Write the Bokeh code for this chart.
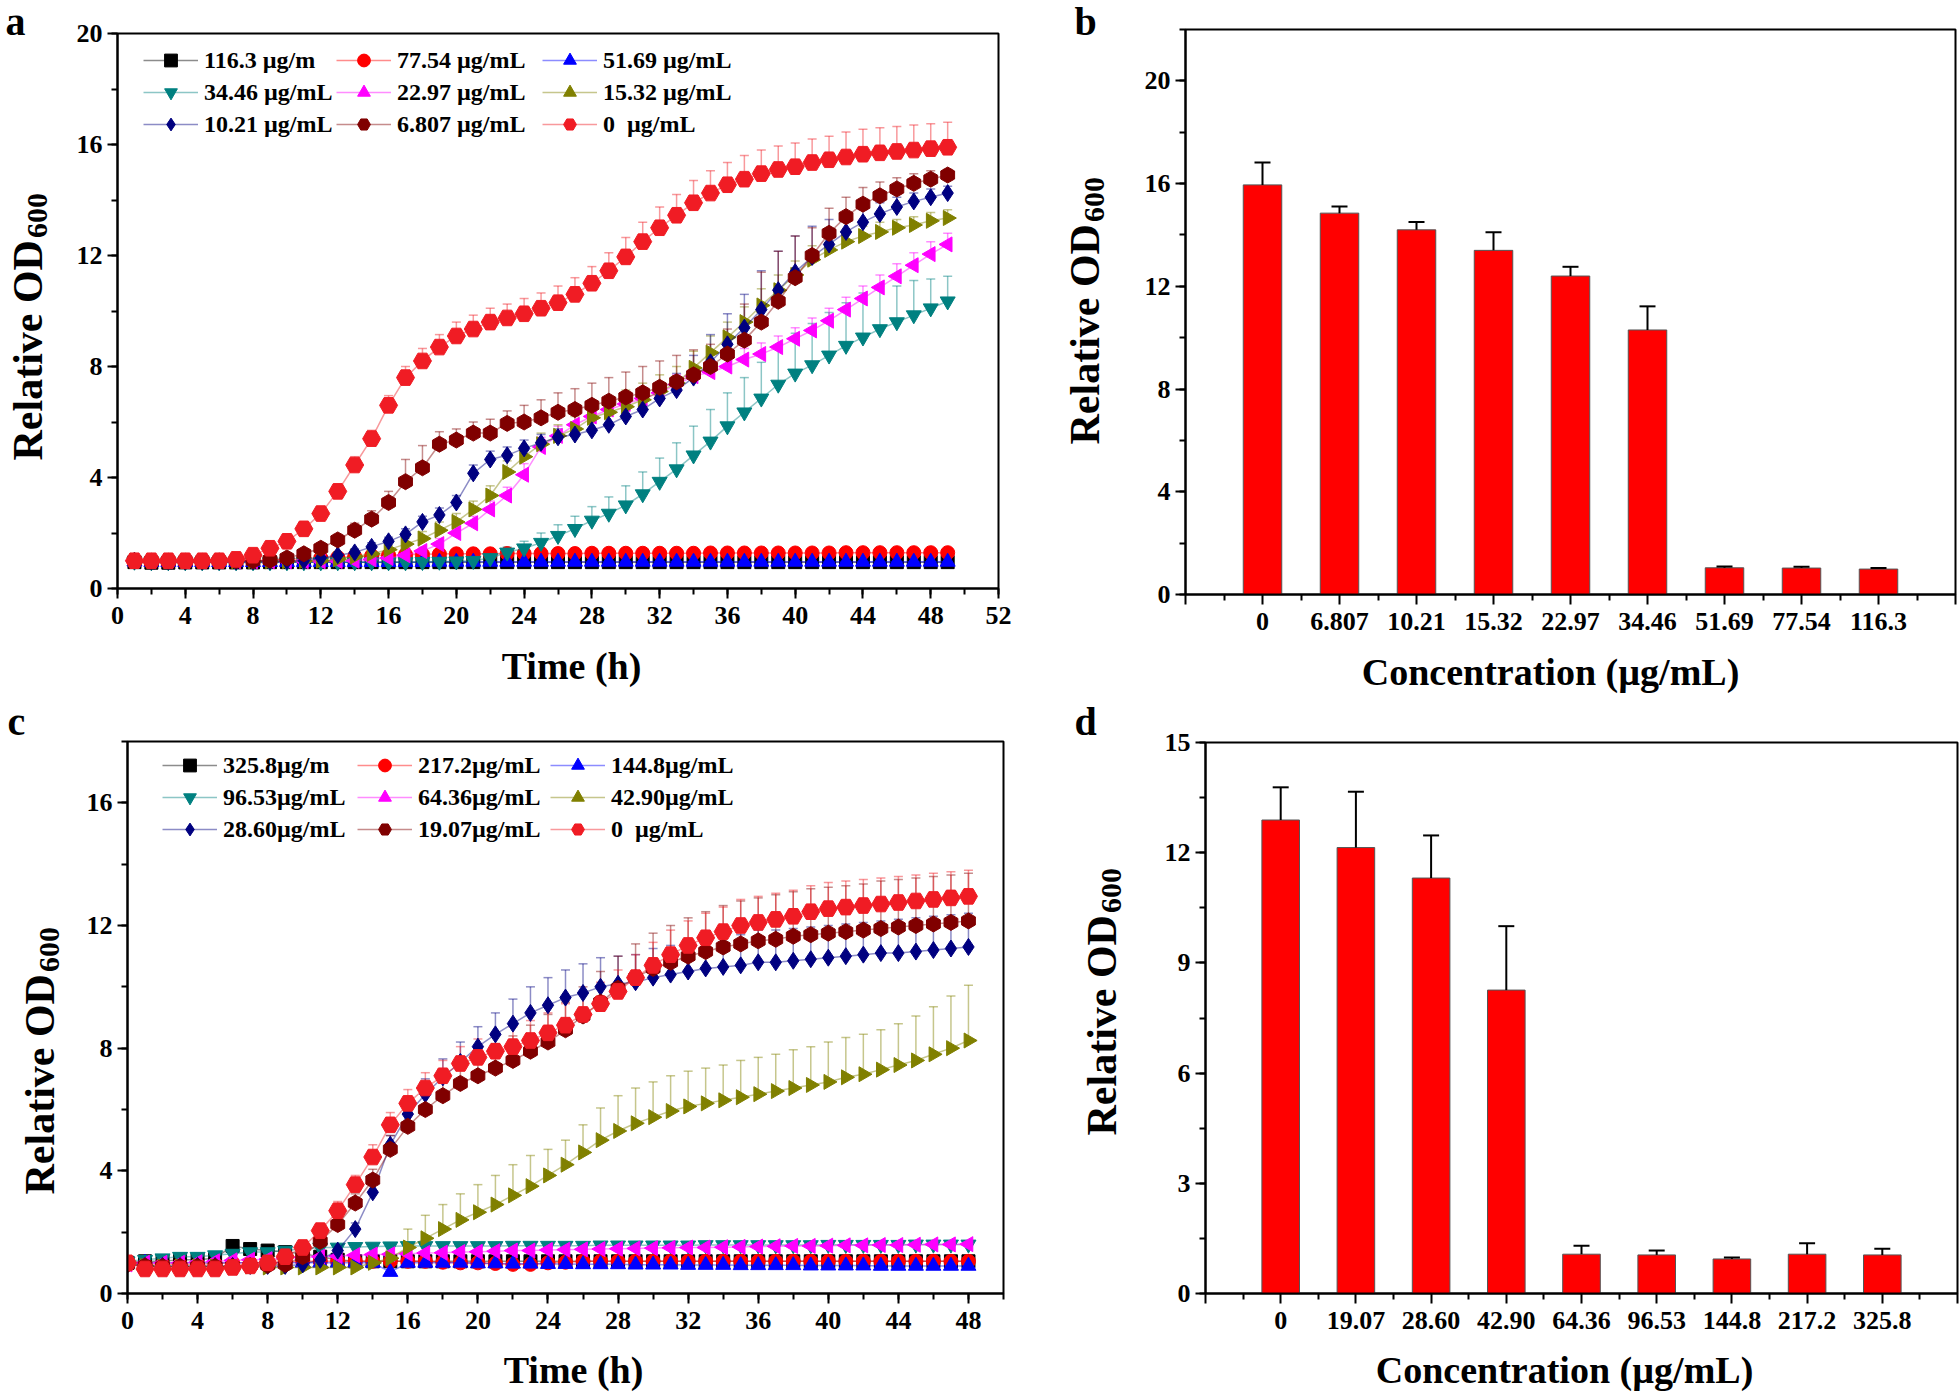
import numpy as np
from bokeh.plotting import figure
from bokeh.layouts import column, row
from bokeh.models import (Legend, LegendItem, Whisker, TeeHead, ColumnDataSource,
                          SingleIntervalTicker, FixedTicker)
from bokeh.core.properties import value
from bokeh.embed import file_html
from bokeh.resources import INLINE

FONT = "Liberation Serif"

# ------------------------------------------------------------------ data: panel a
a_time = list(range(1, 50))
a_labels = ["116.3 µg/m", "77.54 µg/mL", "51.69 µg/mL",
            "34.46 µg/mL", "22.97 µg/mL", "15.32 µg/mL",
            "10.21 µg/mL", "6.807 µg/mL", "0  µg/mL"]
a_1163 = [0.95, 0.93, 0.93, 0.94, 0.94, 0.94, 0.94, 0.94, 0.95, 0.95,
          0.95, 0.95, 0.95, 0.95, 0.95, 0.95, 0.95, 0.95, 0.95, 0.95,
          0.95, 0.95, 0.95, 0.95, 0.95, 0.95, 0.95, 0.95, 0.95, 0.95,
          0.95, 0.95, 0.95, 0.95, 0.95, 0.95, 0.95, 0.95, 0.95, 0.95,
          0.95, 0.95, 0.95, 0.95, 0.95, 0.95, 0.95, 0.95, 0.95]
a_7754 = [1.00, 0.98, 0.98, 0.99, 0.99, 1.00, 1.00, 1.00, 1.02, 1.05,
          1.08, 1.10, 1.12, 1.15, 1.18, 1.20, 1.22, 1.23, 1.24, 1.25,
          1.25, 1.25, 1.26, 1.26, 1.26, 1.26, 1.26, 1.27, 1.27, 1.27,
          1.27, 1.27, 1.27, 1.27, 1.28, 1.28, 1.28, 1.28, 1.28, 1.28,
          1.28, 1.28, 1.29, 1.29, 1.29, 1.29, 1.29, 1.29, 1.29]
a_5169 = [0.97, 0.95, 0.95, 0.95, 0.95, 0.95, 0.95, 0.95, 0.95, 0.95,
          0.95, 0.95, 0.95, 0.95, 0.95, 0.95, 0.95, 0.95, 0.96, 0.96,
          0.96, 0.96, 0.96, 0.96, 0.96, 0.96, 0.96, 0.96, 0.96, 0.96,
          0.96, 0.96, 0.96, 0.96, 0.96, 0.96, 0.96, 0.96, 0.96, 0.96,
          0.96, 0.96, 0.96, 0.96, 0.96, 0.96, 0.96, 0.96, 0.96]
a_3446 = [0.97, 0.95, 0.95, 0.95, 0.95, 0.95, 0.95, 0.95, 0.95, 0.95,
          0.95, 0.95, 0.95, 0.95, 0.95, 0.95, 0.95, 0.96, 0.97, 0.98,
          1.00, 1.10, 1.30, 1.45, 1.65, 1.90, 2.15, 2.45, 2.70, 3.00,
          3.40, 3.85, 4.30, 4.80, 5.30, 5.85, 6.35, 6.85, 7.35, 7.75,
          8.05, 8.40, 8.75, 9.05, 9.35, 9.60, 9.85, 10.10, 10.35]
a_3446_err = [0.05, 0.05, 0.05, 0.05, 0.05, 0.05, 0.05, 0.05, 0.05, 0.05,
              0.05, 0.05, 0.05, 0.05, 0.05, 0.05, 0.05, 0.06, 0.07, 0.08,
              0.10, 0.15, 0.20, 0.25, 0.35, 0.40, 0.45, 0.50, 0.60, 0.70,
              0.80, 0.85, 0.95, 1.05, 1.15, 1.20, 1.25, 1.30, 1.40, 1.45,
              1.50, 1.55, 1.55, 1.60, 1.55, 1.30, 1.25, 1.05, 0.90]
a_2297 = [1.00, 0.98, 0.98, 0.98, 0.98, 0.98, 0.98, 0.98, 0.98, 0.98,
          0.98, 0.98, 0.99, 1.00, 1.05, 1.10, 1.20, 1.35, 1.60, 2.00,
          2.35, 2.85, 3.35, 4.10, 5.10, 5.50, 5.90, 6.20, 6.45, 6.65,
          6.85, 7.05, 7.35, 7.65, 7.80, 8.00, 8.25, 8.45, 8.70, 9.00,
          9.30, 9.65, 10.05, 10.45, 10.85, 11.25, 11.65, 12.05, 12.40]
a_2297_err = [0.05, 0.05, 0.05, 0.05, 0.05, 0.05, 0.05, 0.05, 0.05, 0.05,
              0.05, 0.05, 0.05, 0.05, 0.08, 0.10, 0.12, 0.15, 0.20, 0.25,
              0.25, 0.30, 0.30, 0.40, 0.35, 0.35, 0.35, 0.35, 0.35, 0.35,
              0.35, 0.35, 0.35, 0.35, 0.40, 0.40, 0.40, 0.40, 0.40, 0.40,
              0.45, 0.45, 0.45, 0.45, 0.45, 0.45, 0.45, 0.45, 0.40]
a_1532 = [1.00, 0.98, 0.98, 0.98, 0.98, 0.98, 0.98, 0.98, 0.98, 0.98,
          0.99, 1.00, 1.05, 1.15, 1.25, 1.40, 1.60, 1.80, 2.10, 2.40,
          2.85, 3.35, 4.20, 4.75, 5.20, 5.50, 5.75, 6.15, 6.35, 6.55,
          6.80, 7.10, 7.40, 7.95, 8.50, 9.05, 9.60, 10.20, 10.75, 11.30,
          11.85, 12.20, 12.50, 12.70, 12.85, 13.00, 13.10, 13.25, 13.35]
a_1532_err = [0.05, 0.05, 0.05, 0.05, 0.05, 0.05, 0.05, 0.05, 0.05, 0.05,
              0.05, 0.05, 0.08, 0.10, 0.12, 0.15, 0.20, 0.25, 0.30, 0.30,
              0.30, 0.35, 0.40, 0.40, 0.40, 0.40, 0.45, 0.50, 0.55, 0.60,
              0.60, 0.60, 0.60, 0.60, 0.60, 0.55, 0.55, 0.60, 0.55, 0.50,
              0.50, 0.45, 0.40, 0.35, 0.35, 0.30, 0.30, 0.30, 0.30]
a_1021 = [1.00, 0.97, 0.97, 0.97, 0.97, 0.97, 0.97, 0.98, 0.98, 0.99,
          1.00, 1.10, 1.20, 1.30, 1.50, 1.70, 1.95, 2.40, 2.65, 3.10,
          4.15, 4.65, 4.80, 5.05, 5.25, 5.45, 5.55, 5.70, 5.90, 6.20,
          6.45, 6.85, 7.15, 7.60, 8.15, 8.80, 9.40, 10.05, 10.75, 11.40,
          11.95, 12.40, 12.85, 13.20, 13.50, 13.75, 13.95, 14.10, 14.25]
a_1021_err = [0.05, 0.05, 0.05, 0.05, 0.05, 0.05, 0.05, 0.05, 0.05, 0.05,
              0.05, 0.08, 0.10, 0.12, 0.15, 0.15, 0.20, 0.20, 0.25, 0.25,
              0.30, 0.30, 0.30, 0.30, 0.30, 0.30, 0.30, 0.35, 0.35, 0.40,
              0.45, 0.50, 0.60, 0.80, 1.00, 1.10, 1.20, 1.40, 1.40, 1.30,
              1.10, 0.90, 0.55, 0.45, 0.40, 0.35, 0.30, 0.30, 0.25]
a_6807 = [1.00, 0.98, 0.98, 0.98, 0.98, 0.99, 1.00, 1.00, 1.02, 1.10,
          1.25, 1.45, 1.75, 2.10, 2.50, 3.10, 3.85, 4.35, 5.20, 5.35,
          5.60, 5.60, 5.95, 6.00, 6.15, 6.35, 6.45, 6.60, 6.75, 6.90,
          7.05, 7.25, 7.45, 7.70, 8.00, 8.45, 8.95, 9.60, 10.35, 11.20,
          12.00, 12.80, 13.40, 13.85, 14.15, 14.40, 14.60, 14.75, 14.90]
a_6807_err = [0.05, 0.05, 0.05, 0.05, 0.05, 0.05, 0.05, 0.05, 0.05, 0.10,
              0.15, 0.20, 0.20, 0.25, 0.30, 0.40, 0.80, 0.80, 0.45, 0.40,
              0.40, 0.50, 0.45, 0.60, 0.65, 0.70, 0.75, 0.80, 0.85, 0.90,
              0.95, 0.95, 0.95, 0.90, 0.80, 0.90, 1.30, 1.80, 1.80, 1.50,
              1.00, 0.90, 0.70, 0.60, 0.50, 0.40, 0.35, 0.30, 0.20]
a_0 = [1.00, 1.00, 1.00, 1.00, 1.00, 1.00, 1.05, 1.20, 1.45, 1.70,
       2.15, 2.70, 3.50, 4.45, 5.40, 6.60, 7.60, 8.20, 8.70, 9.10,
       9.35, 9.60, 9.75, 9.90, 10.10, 10.30, 10.60, 11.00, 11.45, 11.95,
       12.50, 13.00, 13.45, 13.90, 14.25, 14.55, 14.75, 14.95, 15.10, 15.20,
       15.35, 15.45, 15.55, 15.65, 15.70, 15.75, 15.80, 15.85, 15.90]
a_0_err = [0.05, 0.05, 0.05, 0.05, 0.05, 0.05, 0.05, 0.10, 0.10, 0.15,
           0.20, 0.20, 0.25, 0.30, 0.30, 0.35, 0.40, 0.45, 0.45, 0.50,
           0.50, 0.50, 0.50, 0.55, 0.55, 0.60, 0.60, 0.60, 0.65, 0.70,
           0.70, 0.75, 0.75, 0.80, 0.80, 0.80, 0.85, 0.85, 0.85, 0.85,
           0.85, 0.85, 0.90, 0.90, 0.90, 0.90, 0.90, 0.90, 0.90]

# ------------------------------------------------------------------ data: panel b
b_cats = ["0", "6.807", "10.21", "15.32", "22.97", "34.46", "51.69", "77.54", "116.3"]
b_vals = [15.95, 14.85, 14.20, 13.40, 12.40, 10.30, 1.04, 1.03, 0.99]
b_err = [0.87, 0.26, 0.30, 0.71, 0.36, 0.92, 0.05, 0.05, 0.04]

# ------------------------------------------------------------------ data: panel c
c_time = list(range(0, 49))
c_labels = ["325.8µg/m", "217.2µg/mL", "144.8µg/mL",
            "96.53µg/mL", "64.36µg/mL", "42.90µg/mL",
            "28.60µg/mL", "19.07µg/mL", "0  µg/mL"]
c_3258 = [1.00, 1.05, 1.05, 1.10, 1.10, 1.15, 1.55, 1.45, 1.40, 1.35,
          1.30, 1.20, 1.10, 1.05, 1.05, 1.05, 1.05, 1.05, 1.05, 1.05,
          1.05, 1.05, 1.05, 1.05, 1.05, 1.05, 1.05, 1.05, 1.05, 1.05,
          1.05, 1.05, 1.05, 1.05, 1.05, 1.05, 1.05, 1.05, 1.05, 1.05,
          1.05, 1.05, 1.05, 1.05, 1.05, 1.05, 1.05, 1.05, 1.05]
c_2172 = [1.00, 0.95, 0.95, 0.95, 0.95, 0.97, 1.00, 1.00, 1.00, 1.02,
          1.05, 1.05, 1.05, 1.05, 1.05, 1.05, 1.05, 1.05, 1.02, 1.00,
          1.00, 0.98, 0.95, 0.95, 1.00, 1.02, 1.05, 1.05, 1.05, 1.05,
          1.05, 1.05, 1.05, 1.05, 1.05, 1.05, 1.05, 1.05, 1.05, 1.05,
          1.05, 1.05, 1.05, 1.05, 1.05, 1.05, 1.05, 1.05, 1.05]
c_1448 = [1.00, 1.00, 1.00, 1.00, 1.00, 1.00, 1.00, 1.00, 1.00, 1.00,
          1.00, 1.00, 1.00, 1.00, 1.00, 0.70, 1.00, 1.00, 1.00, 1.00,
          0.98, 0.98, 0.97, 0.97, 0.96, 0.96, 0.95, 0.95, 0.95, 0.94,
          0.94, 0.94, 0.93, 0.93, 0.93, 0.92, 0.92, 0.92, 0.92, 0.91,
          0.91, 0.91, 0.91, 0.90, 0.90, 0.90, 0.90, 0.90, 0.90]
c_9653 = [1.05, 1.10, 1.15, 1.20, 1.20, 1.25, 1.30, 1.35, 1.35, 1.40,
          1.45, 1.50, 1.50, 1.52, 1.53, 1.54, 1.55, 1.55, 1.55, 1.55,
          1.55, 1.55, 1.56, 1.56, 1.56, 1.56, 1.56, 1.57, 1.57, 1.57,
          1.57, 1.57, 1.57, 1.58, 1.58, 1.58, 1.58, 1.58, 1.58, 1.58,
          1.59, 1.59, 1.59, 1.59, 1.59, 1.60, 1.60, 1.60, 1.60]
c_6436 = [0.95, 1.00, 1.00, 1.00, 1.02, 1.05, 1.08, 1.10, 1.12, 1.15,
          1.18, 1.20, 1.22, 1.25, 1.27, 1.28, 1.30, 1.32, 1.33, 1.35,
          1.36, 1.38, 1.40, 1.40, 1.42, 1.43, 1.44, 1.45, 1.46, 1.47,
          1.48, 1.49, 1.50, 1.50, 1.51, 1.52, 1.53, 1.54, 1.55, 1.55,
          1.56, 1.57, 1.57, 1.58, 1.58, 1.59, 1.60, 1.60, 1.61]
c_4290 = [0.95, 0.90, 0.88, 0.88, 0.88, 0.88, 0.88, 0.88, 0.85, 0.85,
          0.85, 0.85, 0.85, 0.85, 1.00, 1.15, 1.50, 1.80, 2.10, 2.40,
          2.65, 2.90, 3.20, 3.50, 3.85, 4.20, 4.60, 5.00, 5.30, 5.55,
          5.75, 5.95, 6.10, 6.20, 6.30, 6.40, 6.50, 6.60, 6.70, 6.80,
          6.90, 7.05, 7.15, 7.30, 7.45, 7.60, 7.80, 8.00, 8.25]
c_4290_err = [0.05, 0.05, 0.05, 0.05, 0.05, 0.05, 0.05, 0.05, 0.05, 0.05,
              0.05, 0.05, 0.05, 0.05, 0.10, 0.30, 0.60, 0.75, 0.80, 0.85,
              0.90, 0.95, 1.00, 1.00, 0.85, 0.80, 0.90, 1.05, 1.15, 1.15,
              1.15, 1.15, 1.15, 1.15, 1.15, 1.20, 1.20, 1.20, 1.25, 1.25,
              1.30, 1.30, 1.30, 1.30, 1.35, 1.45, 1.55, 1.70, 1.80]
c_2860 = [0.95, 0.90, 0.90, 0.90, 0.90, 0.90, 0.90, 0.90, 0.90, 0.90,
          0.95, 1.10, 1.40, 2.10, 3.30, 4.85, 5.85, 6.50, 7.05, 7.55,
          8.05, 8.45, 8.80, 9.15, 9.40, 9.65, 9.80, 10.00, 10.10, 10.15,
          10.30, 10.40, 10.50, 10.60, 10.65, 10.70, 10.80, 10.80, 10.85, 10.90,
          10.95, 11.00, 11.05, 11.10, 11.10, 11.15, 11.20, 11.25, 11.30]
c_2860_err = [0.05, 0.05, 0.05, 0.05, 0.05, 0.05, 0.05, 0.05, 0.05, 0.05,
              0.05, 0.10, 0.15, 0.20, 0.30, 0.30, 0.40, 0.50, 0.60, 0.65,
              0.65, 0.70, 0.80, 0.85, 0.90, 0.90, 0.95, 0.95, 0.90, 0.90,
              0.95, 0.95, 1.00, 1.00, 1.00, 1.00, 1.05, 1.05, 1.05, 1.05,
              1.05, 1.05, 1.05, 1.05, 1.10, 1.10, 1.10, 1.10, 1.10]
c_1907 = [0.95, 0.90, 0.88, 0.88, 0.88, 0.88, 0.88, 0.90, 0.92, 0.95,
          1.20, 1.70, 2.25, 2.95, 3.70, 4.70, 5.45, 6.00, 6.45, 6.85,
          7.10, 7.35, 7.60, 7.90, 8.20, 8.60, 9.05, 9.50, 9.95, 10.30,
          10.60, 10.80, 11.00, 11.15, 11.30, 11.40, 11.50, 11.55, 11.65, 11.70,
          11.75, 11.80, 11.85, 11.90, 11.95, 12.00, 12.05, 12.10, 12.15]
c_1907_err = [0.05, 0.05, 0.05, 0.05, 0.05, 0.05, 0.05, 0.05, 0.05, 0.05,
              0.15, 0.20, 0.25, 0.30, 0.35, 0.45, 0.55, 0.60, 0.65, 0.70,
              0.75, 0.80, 0.80, 0.85, 0.90, 0.90, 0.95, 1.00, 1.05, 1.10,
              1.15, 1.20, 1.25, 1.30, 1.35, 1.40, 1.40, 1.45, 1.45, 1.50,
              1.50, 1.50, 1.50, 1.55, 1.55, 1.55, 1.55, 1.55, 1.55]
c_0 = [1.00, 0.80, 0.80, 0.80, 0.80, 0.80, 0.85, 0.90, 1.00, 1.20,
       1.50, 2.05, 2.70, 3.55, 4.45, 5.50, 6.20, 6.70, 7.10, 7.50,
       7.70, 7.90, 8.05, 8.25, 8.50, 8.75, 9.10, 9.45, 9.85, 10.30,
       10.70, 11.05, 11.35, 11.60, 11.80, 12.00, 12.10, 12.20, 12.30, 12.45,
       12.55, 12.60, 12.65, 12.70, 12.75, 12.80, 12.85, 12.90, 12.95]
c_0_err = [0.05, 0.05, 0.05, 0.05, 0.05, 0.05, 0.05, 0.05, 0.05, 0.05,
           0.20, 0.20, 0.30, 0.30, 0.40, 0.40, 0.45, 0.50, 0.50, 0.55,
           0.60, 0.60, 0.65, 0.65, 0.65, 0.70, 0.70, 0.70, 0.70, 0.75,
           0.75, 0.80, 0.80, 0.80, 0.80, 0.85, 0.85, 0.85, 0.85, 0.85,
           0.85, 0.85, 0.85, 0.85, 0.85, 0.85, 0.85, 0.85, 0.85]

# ------------------------------------------------------------------ data: panel d
d_cats = ["0", "19.07", "28.60", "42.90", "64.36", "96.53", "144.8", "217.2", "325.8"]
d_vals = [12.89, 12.14, 11.31, 8.26, 1.07, 1.05, 0.94, 1.07, 1.05]
d_err = [0.89, 1.52, 1.16, 1.74, 0.23, 0.12, 0.04, 0.30, 0.17]

# ------------------------------------------------------------------ styles
COLORS = ["#000000", "#ff0000", "#0000ff", "#008080", "#ff00ff", "#808000",
          "#000080", "#800000", "#f01c24"]
MARKERS = ["square", "circle", "triangle", "inverted_triangle", "triangle", "triangle",
           "diamond", "hex", "hex"]
ANGLES = [0, 0, 0, 0, np.pi / 2, -np.pi / 2, 0, np.pi / 2, 0]
SIZES = [13, 14, 15, 15, 15, 15, 17, 16, 18]


def make_fig(W, H, fl, fr, ft, fb, xr, yr):
    p = figure(width=W, height=H, x_range=xr, y_range=yr, title=None,
               output_backend="svg", toolbar_location=None, frame_align=False,
               min_border_left=fl, min_border_right=W - fr,
               min_border_top=ft, min_border_bottom=H - fb)
    p.outline_line_color = "black"
    p.outline_line_width = 2
    p.outline_line_alpha = 1
    p.xgrid.visible = False
    p.ygrid.visible = False
    p.background_fill_color = "white"
    p.border_fill_color = "white"
    for ax in list(p.xaxis) + list(p.yaxis):
        ax.axis_line_width = 2
        ax.axis_line_color = "black"
        ax.major_tick_line_width = 2
        ax.minor_tick_line_width = 2
        ax.major_tick_line_color = "black"
        ax.minor_tick_line_color = "black"
        ax.major_tick_out = 10
        ax.major_tick_in = 0
        ax.minor_tick_out = 6
        ax.minor_tick_in = 0
        ax.major_label_text_font = FONT
        ax.major_label_text_font_style = "bold"
        ax.major_label_text_font_size = "26px"
        ax.major_label_text_color = "black"
    p.xaxis.major_label_standoff = 8
    p.yaxis.major_label_standoff = 5
    return p


def text_fig(W, H, items):
    """A plain strip that carries texts; items = (x, y_from_top, text, size, angle, align)."""
    p = figure(width=W, height=H, x_range=(0, W), y_range=(0, H), title=None,
               output_backend="svg", toolbar_location=None, frame_align=False,
               x_axis_type=None, y_axis_type=None,
               min_border_left=0, min_border_right=0, min_border_top=0, min_border_bottom=0)
    p.outline_line_color = None
    p.grid.visible = False
    p.background_fill_color = "white"
    p.border_fill_color = "white"
    for (x, y, t, s, ang, al) in items:
        p.text(x=[x], y=[H - y], text=[t], angle=ang, text_align=al, text_baseline="middle",
               text_font=value(FONT), text_font_style=value("bold"),
               text_font_size=value(f"{s}px"), text_color="black")
    return p


def ylabel_items(px, py_bottom, letter, lx, ly):
    main_w = 5.249 * 42
    return [(px, py_bottom, "Relative OD", 42, np.pi / 2, "left"),
            (px + 10, py_bottom - main_w - 2, "600", 30, np.pi / 2, "left"),
            (lx, ly, letter, 40, 0.0, "center")]


def growth(p, x, series, errs, labels, col_x, leg_y):
    for ys, er, c in zip(series, errs, COLORS):
        if er is None:
            continue
        src = ColumnDataSource(dict(base=x, lower=ys, upper=[a + b for a, b in zip(ys, er)]))
        p.add_layout(Whisker(source=src, base="base", lower="lower", upper="upper",
                             dimension="height", line_color=c, line_alpha=0.45, line_width=1.5,
                             upper_head=TeeHead(size=9, line_color=c, line_alpha=0.45, line_width=1.5),
                             lower_head=None))
    items = []
    for ys, lab, c, m, a, s in zip(series, labels, COLORS, MARKERS, ANGLES, SIZES):
        rl = p.line(x, ys, line_color=c, line_alpha=0.45, line_width=1.5)
        rs = p.scatter(x, ys, marker=m, angle=a, size=s, fill_color=c, line_color=c)
        items.append(LegendItem(label=lab, renderers=[rl, rs]))
    # three legend columns, filled row by row as in the original
    for k in range(3):
        leg = Legend(items=items[k::3], location=(col_x[k], leg_y), orientation="vertical",
                     glyph_width=55, glyph_height=32, label_height=32, label_standoff=6,
                     spacing=0, padding=0, margin=0,
                     label_text_font=FONT, label_text_font_style="bold",
                     label_text_font_size="24px", label_text_color="black",
                     background_fill_alpha=0, border_line_alpha=0)
        p.add_layout(leg)


def bars(p, cats, vals, errs):
    idx = list(range(len(cats)))
    p.vbar(x=idx, top=vals, width=0.5, fill_color="#ff0000", line_color="#555555", line_width=1)
    src = ColumnDataSource(dict(base=idx, lower=vals, upper=[a + b for a, b in zip(vals, errs)]))
    p.add_layout(Whisker(source=src, base="base", lower="lower", upper="upper",
                         dimension="height", line_color="black", line_width=2, level="glyph",
                         upper_head=TeeHead(size=16, line_color="black", line_width=2),
                         lower_head=None))
    ticks = list(range(-1, len(cats) + 1))
    p.xaxis.ticker = FixedTicker(ticks=ticks, minor_ticks=[t + 0.5 for t in ticks[:-1]])
    ov = {t: "" for t in ticks}
    for i, c in enumerate(cats):
        ov[i] = c
    p.xaxis.major_label_overrides = ov


# page rows: plots (row 1), x titles, plots (row 2), x titles
H1, T1, H2, T2 = 646, 54, 651, 41

# ------------------------------------------------------------------ panel a
pa = make_fig(955, H1, 57, 938, 33, 588, (0, 52), (0, 20))
pa.xaxis.ticker = SingleIntervalTicker(interval=4, num_minor_ticks=2)
pa.yaxis.ticker = SingleIntervalTicker(interval=4, num_minor_ticks=2)
growth(pa, a_time,
       [a_1163, a_7754, a_5169, a_3446, a_2297, a_1532, a_1021, a_6807, a_0],
       [None, None, None, a_3446_err, a_2297_err, a_1532_err, a_1021_err, a_6807_err, a_0_err],
       a_labels, (26, 219, 425), 448)
la = text_fig(60, H1, ylabel_items(27, 460, "a", 15, 21))

# ------------------------------------------------------------------ panel b
pb = make_fig(839, H1, 65, 835, 29, 594, (-1, 9), (0, 22))
pb.yaxis.ticker = SingleIntervalTicker(interval=4, num_minor_ticks=2)
bars(pb, b_cats, b_vals, b_err)
lb = text_fig(105, H1, ylabel_items(69, 444, "b", 70, 21))

title1 = text_fig(1959, T1, [(571, 19, "Time (h)", 38, 0.0, "center"),
                             (1550, 25, "Concentration (µg/mL)", 38, 0.0, "center")])

# ------------------------------------------------------------------ panel c
pc = make_fig(945, H2, 57, 933, 41, 593, (0, 50), (0, 18))
pc.xaxis.ticker = SingleIntervalTicker(interval=4, num_minor_ticks=2)
pc.yaxis.ticker = SingleIntervalTicker(interval=4, num_minor_ticks=2)
growth(pc, c_time,
       [c_3258, c_2172, c_1448, c_9653, c_6436, c_4290, c_2860, c_1907, c_0],
       [None, None, None, None, None, c_4290_err, c_2860_err, c_1907_err, c_0_err],
       c_labels, (35, 230, 423), 448)
lc = text_fig(70, H2, ylabel_items(39, 494, "c", 16, 21))

# ------------------------------------------------------------------ panel d
pd_ = make_fig(824, H2, 70, 822, 42, 593, (-1, 9), (0, 15))
pd_.yaxis.ticker = SingleIntervalTicker(interval=3, num_minor_ticks=2)
bars(pd_, d_cats, d_vals, d_err)
ld = text_fig(120, H2, ylabel_items(86, 435, "d", 70, 21))

title2 = text_fig(1959, T2, [(573, 18, "Time (h)", 38, 0.0, "center"),
                             (1564, 18, "Concentration (µg/mL)", 38, 0.0, "center")])

layout = column(row(la, pa, lb, pb), title1, row(lc, pc, ld, pd_), title2)
open("out.html", "w").write(file_html(layout, INLINE))
